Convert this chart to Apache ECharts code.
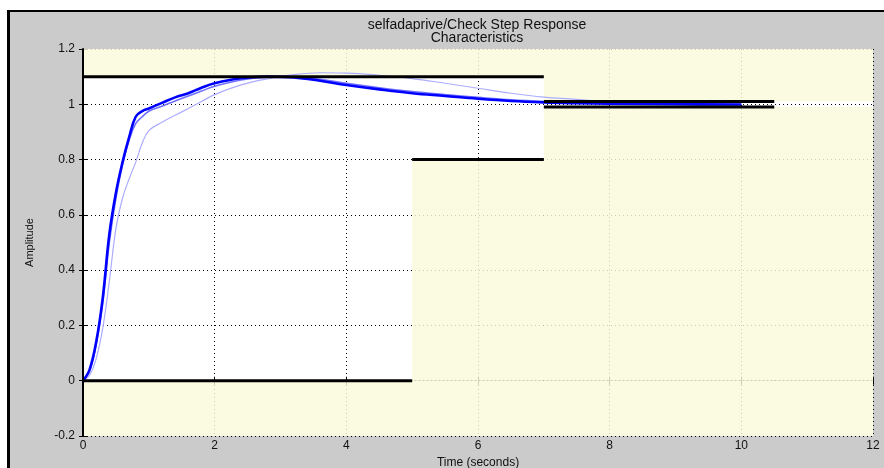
<!DOCTYPE html>
<html>
<head>
<meta charset="utf-8">
<script src="https://cdn.jsdelivr.net/npm/echarts@6/dist/echarts.min.js"></script>
<style>
  body { margin: 0; background: #fff; }
  #panel { position: absolute; left: 7px; top: 10px; width: 877px; height: 458px;
           background: #cbcbcb; border-top: 2px solid #000; border-left: 3px solid #000; box-sizing: border-box; }
  #chart { position: absolute; left: 0; top: 0; width: 884px; height: 468px; }
</style>
</head>
<body>
<div id="panel"></div>
<div id="chart"></div>
<script>
// time samples (s) shared by the three responses
const times = [0, 0.1, 0.2, 0.3, 0.4, 0.5, 0.6, 0.7, 0.8, 0.9, 1.0, 1.2, 1.4, 1.6, 1.8, 2.0, 2.4, 2.8, 3.2, 3.6, 4.0, 4.5, 5.0, 5.5, 6.0, 6.5, 7.0, 7.5, 8, 9, 10]
const respMain = [0, 0.04, 0.14, 0.3, 0.53, 0.68, 0.79, 0.88, 0.955, 0.975, 0.985, 1.005, 1.025, 1.04, 1.06, 1.076, 1.094, 1.1, 1.097, 1.085, 1.07, 1.054, 1.04, 1.03, 1.02, 1.012, 1.007, 1.004, 1.002, 1.0, 0.999]
const respMid = [0, 0.035, 0.13, 0.28, 0.5, 0.66, 0.78, 0.87, 0.93, 0.955, 0.975, 0.993, 1.012, 1.03, 1.048, 1.065, 1.088, 1.098, 1.099, 1.09, 1.076, 1.06, 1.046, 1.035, 1.025, 1.016, 1.01, 1.006, 1.003, 1.0, 0.999]
const respSlow = [0, 0.02, 0.08, 0.19, 0.36, 0.55, 0.66, 0.73, 0.79, 0.86, 0.905, 0.935, 0.96, 0.985, 1.01, 1.035, 1.07, 1.092, 1.107, 1.114, 1.113, 1.105, 1.093, 1.076, 1.058, 1.04, 1.026, 1.018, 1.007, 1.0, 0.999]

// step response bounds: [tStart, tEnd, value]
const upperBounds = [[0, 7, 1.1], [7, 10.5, 1.01]]
const lowerBounds = [[0, 5, 0], [5, 7, 0.8], [7, 10.5, 0.99]]
// shaded zone continues past the last bound segment
const upperTail = [10.5, 12, 1.01]
const lowerTail = [10.5, 12, 0.99]

const xTicks = [0, 2, 4, 6, 8, 10, 12]
const yMin = -0.2, yMax = 1.2

const zip = ys => times.map((t, i) => [t, ys[i]])

const areas = []
upperBounds.concat([upperTail]).forEach(b => areas.push([{ coord: [b[0], b[2]] }, { coord: [b[1], yMax] }]))
lowerBounds.concat([lowerTail]).forEach(b => areas.push([{ coord: [b[0], yMin] }, { coord: [b[1], b[2]] }]))

// bound segments -> one black line series with gaps
const boundData = []
upperBounds.concat(lowerBounds).forEach(b => {
  boundData.push([b[0], b[2]], [b[1], b[2]], null)
})

const font = 'Liberation Sans, Arial, sans-serif'
const chart = echarts.init(document.getElementById('chart'))
chart.setOption({
  backgroundColor: 'transparent',
  animation: false,
  title: {
    text: 'selfadaprive/Check Step Response\nCharacteristics',
    left: 477, top: 19, textAlign: 'center', padding: 0,
    textStyle: { fontFamily: font, fontSize: 14, fontWeight: 'normal', color: '#111', lineHeight: 13 }
  },
  grid: { left: 83, right: 11, top: 49, bottom: 32, backgroundColor: '#fff', show: true, borderWidth: 0,
    outerBoundsMode: 'none' },
  xAxis: [{
    type: 'value', min: 0, max: 12, interval: 2,
    name: 'Time (seconds)', nameLocation: 'middle', nameGap: 20,
    nameTextStyle: { fontFamily: font, fontSize: 12, color: '#111' },
    axisLine: { lineStyle: { color: '#000', type: [1, 3] } },
    axisTick: { inside: true, length: 4, lineStyle: { color: '#000' } },
    axisLabel: { fontFamily: font, fontSize: 12, color: '#111', margin: 4, customValues: xTicks },
    splitLine: { show: true, lineStyle: { color: '#000', type: [1, 3] } }
  }, {
    type: 'value', min: 0, max: 12, interval: 2, position: 'top',
    axisLine: { lineStyle: { color: '#000', type: [1, 3] } },
    axisTick: { inside: true, length: 4, lineStyle: { color: '#000' } },
    axisLabel: { show: false }, splitLine: { show: false }
  }],
  yAxis: [{
    type: 'value', min: yMin, max: yMax, interval: 0.2,
    name: 'Amplitude', nameLocation: 'middle', nameGap: 48,
    nameTextStyle: { fontFamily: font, fontSize: 11, color: '#111' },
    axisLine: { show: true, lineStyle: { color: '#000', type: [1, 3] } },
    axisTick: { show: true, inside: true, length: 4, lineStyle: { color: '#000' } },
    axisLabel: { fontFamily: font, fontSize: 12, color: '#111', margin: 8,
      formatter: v => String(Math.round(v * 10) / 10) },
    splitLine: { show: true, lineStyle: { color: '#000', type: [1, 3] } }
  }, {
    type: 'value', min: yMin, max: yMax, interval: 0.2, position: 'right', z: 10,
    axisLine: { show: true, lineStyle: { color: '#000', width: 2 } },
    axisTick: { show: true, inside: true, length: 4, lineStyle: { color: '#000' } },
    axisLabel: { show: false }, splitLine: { show: false }
  }],
  series: [
    {
      type: 'line', data: [], z: 1,
      markArea: { silent: true, itemStyle: { color: 'rgba(250,250,220,0.82)' }, data: areas }
    },
    { type: 'line', data: zip(respSlow), smooth: 0.4, showSymbol: false, z: 3,
      lineStyle: { color: '#acacff', width: 1.2 } },
    { type: 'line', data: zip(respMid), smooth: 0.4, showSymbol: false, z: 3,
      lineStyle: { color: '#7070ff', width: 1.6 } },
    { type: 'line', data: zip(respMain), smooth: 0.4, showSymbol: false, z: 3,
      lineStyle: { color: '#0000ff', width: 2.6 } },
    { type: 'line', data: boundData, showSymbol: false, connectNulls: false, z: 4,
      lineStyle: { color: '#000', width: 3 } }
  ]
})
</script>
</body>
</html>
